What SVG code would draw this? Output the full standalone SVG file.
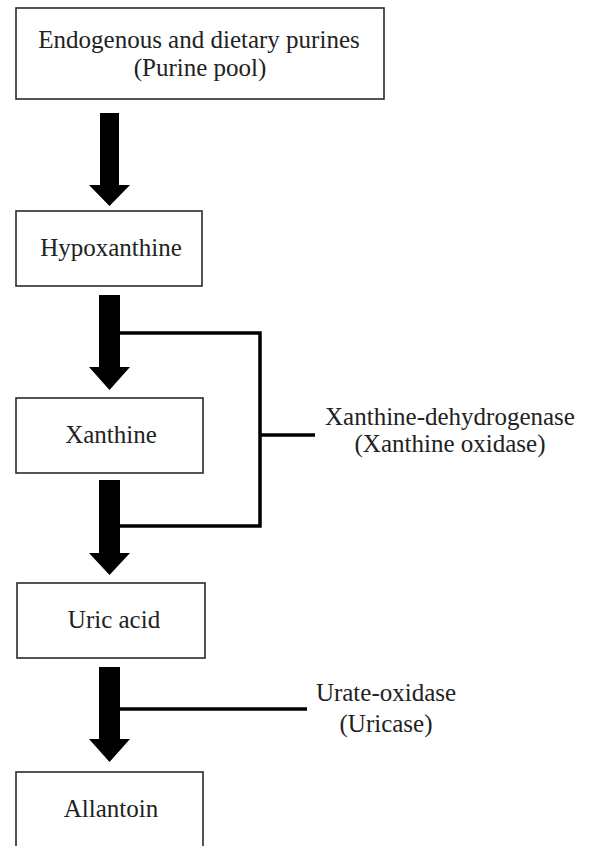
<svg xmlns="http://www.w3.org/2000/svg" width="589" height="846" viewBox="0 0 589 846">
<style>
.box{fill:#fff;stroke:#2a2a2a;stroke-width:1.6}
.t{font-family:"Liberation Serif","Times New Roman",serif;font-size:25px;fill:#222;text-anchor:middle}
.arrow{fill:#000}
.line{stroke:#000;stroke-width:3.5;fill:none;stroke-linecap:butt;stroke-linejoin:miter}
</style>
<rect width="589" height="846" fill="#fff"/>
<g id="connectors">
  <path class="line" d="M118,333 H260 V526 H118 M260,435 H315"/>
  <path class="line" d="M118,709 H307"/>
  <path class="arrow" d="M100,113 H119 V185 H130 L109.5,206 L89,185 H100 Z"/>
  <path class="arrow" d="M99,295 H120 V367 H130 L109.5,390 L89,367 H99 Z"/>
  <path class="arrow" d="M99,480 H120 V553 H130 L109.5,575 L89,553 H99 Z"/>
  <path class="arrow" d="M99,667 H120 V739 H130 L109.5,762 L89,739 H99 Z"/>
</g>
<g id="purine-pool">
  <rect class="box" x="16" y="8" width="368" height="91"/>
  <text class="t" x="199" y="48">Endogenous and dietary purines</text>
  <text class="t" x="200" y="76">(Purine pool)</text>
</g>
<g id="hypoxanthine">
  <rect class="box" x="16" y="211" width="186" height="75"/>
  <text class="t" x="111" y="256">Hypoxanthine</text>
</g>
<g id="xanthine">
  <rect class="box" x="16" y="398" width="187" height="75"/>
  <text class="t" x="111" y="443">Xanthine</text>
</g>
<g id="uric-acid">
  <rect class="box" x="17" y="583" width="188" height="75"/>
  <text class="t" x="114" y="628">Uric acid</text>
</g>
<g id="allantoin">
  <rect class="box" x="16" y="772" width="187" height="90"/>
  <text class="t" x="111" y="817">Allantoin</text>
</g>
<g id="xanthine-dehydrogenase">
  <text class="t" x="450" y="425">Xanthine-dehydrogenase</text>
  <text class="t" x="450" y="452">(Xanthine oxidase)</text>
</g>
<g id="urate-oxidase">
  <text class="t" x="386" y="701">Urate-oxidase</text>
  <text class="t" x="386" y="732">(Uricase)</text>
</g>
</svg>
